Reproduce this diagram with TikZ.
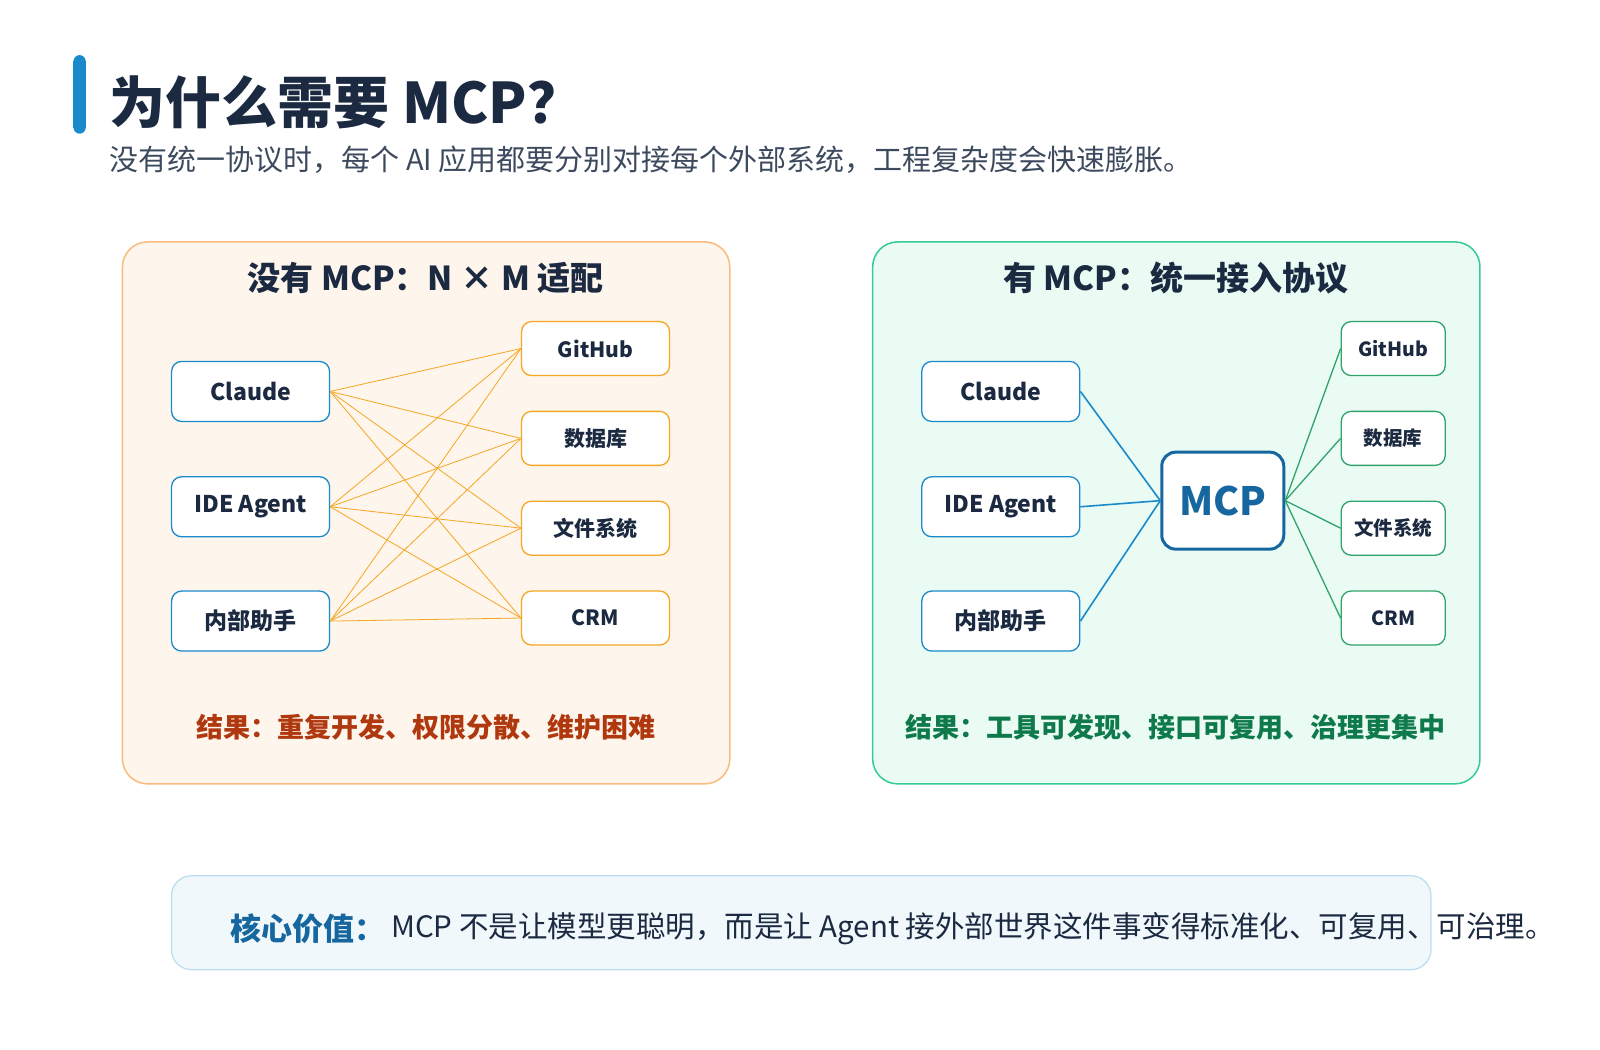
\documentclass[tikz,border=0pt]{standalone}
\usepackage{fontspec}
\setmainfont{Noto Sans CJK SC}
\definecolor{navy}{HTML}{1B2A41}
\definecolor{blu}{HTML}{1A8ACB}
\definecolor{mcpb}{HTML}{16679F}
\definecolor{org}{HTML}{F5A623}
\definecolor{grn}{HTML}{2EA36A}
\definecolor{mint}{HTML}{EAFBF3}
\definecolor{mintb}{HTML}{34CC94}
\definecolor{dgrn}{HTML}{0E7A4B}
\definecolor{dred}{HTML}{B0380E}
\definecolor{lorg}{HTML}{F9BB7E}
\definecolor{cream}{HTML}{FEF5EC}
\begin{document}
\begin{tikzpicture}[x=1.0207pt,y=-1.0207pt,
 src/.style={draw=blu,line width=1.3pt,fill=white,rounded corners=10pt,minimum width=158pt,minimum height=60pt,font=\fontsize{23}{23}\selectfont\bfseries,text=navy},
 dstL/.style={draw=org,line width=1.3pt,fill=white,rounded corners=10pt,minimum width=148pt,minimum height=54pt,font=\fontsize{21}{21}\selectfont\bfseries,text=navy},
 dstR/.style={draw=grn,line width=1.3pt,fill=white,rounded corners=10pt,minimum width=104pt,minimum height=54pt,font=\fontsize{19.5}{19.5}\selectfont\bfseries,text=navy},
 ol/.style={draw=org,line width=0.8pt},
 bl/.style={draw=blu,line width=1.6pt},
 gl/.style={draw=grn,line width=1.3pt},
 ptitle/.style={font=\fontsize{33}{33}\selectfont\bfseries,text=navy}]
\useasboundingbox (0,0) rectangle (1567.6,1028.7);
\fill[blu] (72,60) rectangle (84,125);
\fill[blu] (78,60) circle (6); \fill[blu] (78,125) circle (6);
\node[anchor=west,font=\fontsize{56}{56}\selectfont\bfseries,text=navy] (title) at (104,100) {为什么需要 MCP？};
\node[anchor=west,font=\fontsize{29}{29}\selectfont,text=navy!85] (sub) at (104,157) {没有统一协议时，每个 AI 应用都要分别对接每个外部系统，工程复杂度会快速膨胀。};
% left panel
\draw[draw=lorg,fill=cream,line width=1.5pt,rounded corners=25pt] (120,237) rectangle (715,768);
\node[ptitle] (lt) at (417,272) {没有 MCP：N × M 适配};
\node[src] (a1) at (245.5,383.5) {Claude};
\node[src] (a2) at (245.5,496.5) {IDE Agent};
\node[src] (a3) at (245.5,608.5) {内部助手};
\node[dstL] (b1) at (583.5,341.5) {GitHub};
\node[dstL] (b2) at (583.5,429.5) {数据库};
\node[dstL] (b3) at (583.5,517.5) {文件系统};
\node[dstL] (b4) at (583.5,605.5) {CRM};
\foreach \i in {1,2,3}{\foreach \j in {1,2,3,4}{\draw[ol] (a\i.east) -- (b\j.west);}}
\node[font=\fontsize{27}{27}\selectfont\bfseries,text=dred] (lr) at (417,712) {结果：重复开发、权限分散、维护困难};
% right panel
\draw[draw=mintb,fill=mint,line width=1.5pt,rounded corners=25pt] (855,237) rectangle (1450,768);
\node[ptitle] (rt) at (1152,272) {有 MCP：统一接入协议};
\node[src] (c1) at (980.5,383.5) {Claude};
\node[src] (c2) at (980.5,496.5) {IDE Agent};
\node[src] (c3) at (980.5,608.5) {内部助手};
\node[draw=mcpb,line width=3pt,fill=white,rounded corners=14pt,minimum width=122pt,minimum height=97pt,font=\fontsize{39}{39}\selectfont\bfseries,text=mcpb] (m) at (1198,490.5) {MCP};
\node[dstR] (d1) at (1365,341.5) {GitHub};
\node[dstR] (d2) at (1365,429.5) {数据库};
\node[dstR] (d3) at (1365,517.5) {文件系统};
\node[dstR] (d4) at (1365,605.5) {CRM};
\foreach \i in {1,2,3}{\draw[bl] (c\i.east) -- (m.west);}
\foreach \j in {1,2,3,4}{\draw[gl] (m.east) -- (d\j.west);}
\node[font=\fontsize{27}{27}\selectfont\bfseries,text=dgrn] (rr) at (1152,712) {结果：工具可发现、接口可复用、治理更集中};
% bottom
\draw[draw=blu!30,fill=blu!6,line width=1.2pt,rounded corners=20pt] (168,858) rectangle (1402,950);
\node[anchor=west,font=\fontsize{31}{31}\selectfont\bfseries,text=mcpb,inner sep=0pt] (kv) at (226,910) {核心价值：};
\node[anchor=west,font=\fontsize{29.5}{29.5}\selectfont,text=navy,inner sep=0pt] (kt) at (383,910) {MCP 不是让模型更聪明，而是让 Agent 接外部世界这件事变得标准化、可复用、可治理。};
\end{tikzpicture}
\end{document}
